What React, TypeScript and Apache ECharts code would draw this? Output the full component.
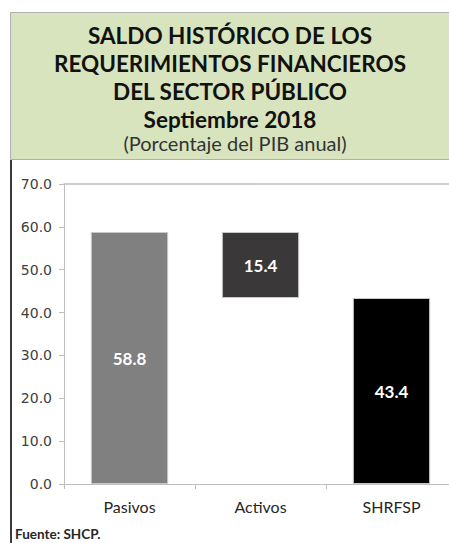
import React, { useEffect, useRef } from "react";
import * as echarts from "echarts";

const categories = ["Pasivos", "Activos", "SHRFSP"];
const values = [58.8, 15.4, 43.4];
const bases = [0, 43.4, 0];
const barColors = ["#808080", "#3a3838", "#000000"];
const yTicks = { min: 0, max: 70, interval: 10 };
const titleLines = [
  "SALDO HISTÓRICO DE LOS",
  "REQUERIMIENTOS FINANCIEROS",
  "DEL SECTOR PÚBLICO",
  "Septiembre 2018",
];
const subtitle = "(Porcentaje del PIB anual)";
const source = "Fuente: SHCP.";

export default function App() {
  const ref = useRef<HTMLDivElement>(null);
  useEffect(() => {
    document.body.style.margin = "0";
    const chart = echarts.init(ref.current!, null, { renderer: "svg" });
    chart.setOption({
      animation: false,
      backgroundColor: "#ffffff",
      graphic: [
        {
          type: "rect",
          shape: { x: 10.5, y: 12.5, width: 460, height: 147 },
          style: { fill: "#d7e4bd", stroke: "#b0b0b0", lineWidth: 1 },
          z: -1,
        },
        {
          type: "line",
          shape: { x1: 11, y1: 160, x2: 11, y2: 543 },
          style: { stroke: "#3a3a3a", lineWidth: 2 },
        },
      ],
      title: [
        {
          text: titleLines.join("\n"),
          left: 230,
          top: 21,
          textAlign: "center",
          padding: 0,
          textStyle: {
            fontFamily: "Lato",
            fontWeight: "bold",
            fontSize: 22.5,
            lineHeight: 28,
            color: "#111111",
          },
        },
        {
          text: subtitle,
          left: 235,
          top: 133,
          textAlign: "center",
          padding: 0,
          textStyle: {
            fontFamily: "Lato",
            fontWeight: "normal",
            fontSize: 20,
            color: "#333333",
          },
        },
        {
          text: source,
          left: 15,
          top: 527,
          padding: 0,
          textStyle: {
            fontFamily: "Lato",
            fontWeight: "bold",
            fontSize: 13.5,
            color: "#262626",
          },
        },
      ],
      grid: { left: 64, top: 184, width: 393, bottom: 59, containLabel: false },
      xAxis: [
        {
          type: "category",
          data: categories,
          axisLine: { lineStyle: { color: "#bfbfbf", width: 1 } },
          axisTick: { show: true, length: 5, lineStyle: { color: "#bfbfbf" } },
          axisLabel: {
            fontFamily: "Lato",
            fontSize: 16,
            color: "#262626",
            margin: 14,
          },
        },
        {
          type: "category",
          data: categories,
          position: "top",
          axisLine: { show: true, onZero: false, lineStyle: { color: "#bfbfbf", width: 1.5 } },
          axisTick: { show: false },
          axisLabel: { show: false },
        },
      ],
      yAxis: {
        type: "value",
        min: yTicks.min,
        max: yTicks.max,
        interval: yTicks.interval,
        axisLine: { show: true, lineStyle: { color: "#bfbfbf", width: 1 } },
        axisTick: { show: true, length: 5, lineStyle: { color: "#bfbfbf" } },
        splitLine: { show: false },
        axisLabel: {
          formatter: (v: number) => v.toFixed(1),
          fontFamily: "DejaVu Sans",
          fontSize: 14,
          color: "#404040",
          margin: 12,
        },
      },
      series: [
        {
          type: "bar",
          stack: "w",
          data: bases,
          itemStyle: { color: "transparent" },
          barCategoryGap: "41%",
          silent: true,
        },
        {
          type: "bar",
          stack: "w",
          barCategoryGap: "41%",
          data: values.map((v, i) => ({
            value: v,
            itemStyle: { color: barColors[i], borderColor: "#c8c8c8", borderWidth: 1 },
          })),
          label: {
            show: true,
            position: "inside",
            formatter: (p: any) => Number(p.value).toFixed(1),
            fontFamily: "Lato",
            fontWeight: "bold",
            fontSize: 17,
            color: "#ffffff",
          },
        },
      ],
    });
    return () => chart.dispose();
  }, []);
  return (
    <div style={{ width: 449, height: 543, overflow: "hidden" }}>
      <div ref={ref} style={{ width: 460, height: 543 }} />
    </div>
  );
}
